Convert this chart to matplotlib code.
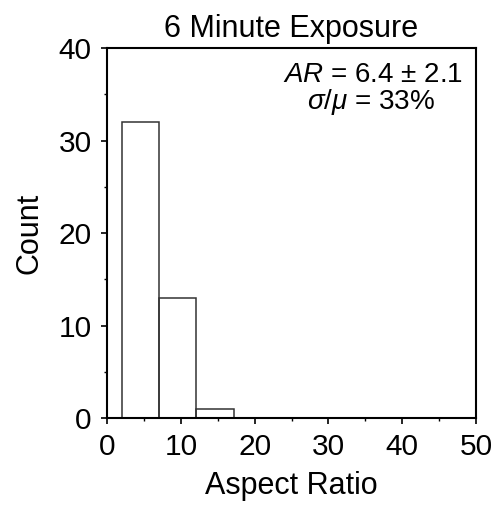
import matplotlib
matplotlib.use("Agg")
from matplotlib import pyplot as plt
from matplotlib.ticker import MultipleLocator

# Donnees
bin_left = [2.0, 7.0, 12.1]
bin_width = 5.1
counts = [32, 13, 1]
x_ticks = [0, 10, 20, 30, 40, 50]
y_ticks = [0, 10, 20, 30, 40]

title = "6 Minute Exposure"
stats_lines = [r"$AR$ = 6.4 ± 2.1", r"$\sigma/\mu$ = 33%"]

plt.rcParams['font.family'] = ['Liberation Sans', 'DejaVu Sans']
plt.rcParams['mathtext.fontset'] = 'custom'
plt.rcParams['mathtext.rm'] = 'Liberation Sans'
plt.rcParams['mathtext.it'] = 'Liberation Sans:italic'

fig = plt.figure(figsize=(4.98, 5.07), dpi=100)
ax = fig.add_axes([0.2149, 0.1755, 0.9558 - 0.2149, 0.9053 - 0.1755])

ax.bar(bin_left, counts, width=bin_width, align='edge', fill=False,
       edgecolor='#333333', linewidth=1.1)

ax.set_xlim(0, 50)
ax.set_ylim(0, 40)
ax.set_xticks(x_ticks)
ax.set_yticks(y_ticks)
ax.xaxis.set_minor_locator(MultipleLocator(5))
ax.yaxis.set_minor_locator(MultipleLocator(5))
ax.tick_params(which='major', direction='out', length=4, width=1.2,
               labelsize=21.5, pad=7)
ax.tick_params(which='minor', direction='out', length=2, width=1.0)

for sp in ax.spines.values():
    sp.set_linewidth(1.5)

ax.set_xlabel("Aspect Ratio", fontsize=22, labelpad=7)
ax.set_ylabel("Count", fontsize=22, labelpad=10)
ax.set_title(title, fontsize=22, pad=8)

# Statistiques en haut a droite, centrees l'une sous l'autre
ax.text(0.72, 0.908, stats_lines[0], transform=ax.transAxes, ha='center',
        va='baseline', fontsize=20)
ax.text(0.715, 0.835, stats_lines[1], transform=ax.transAxes, ha='center',
        va='baseline', fontsize=20)

plt.savefig("out.png", dpi=100)
